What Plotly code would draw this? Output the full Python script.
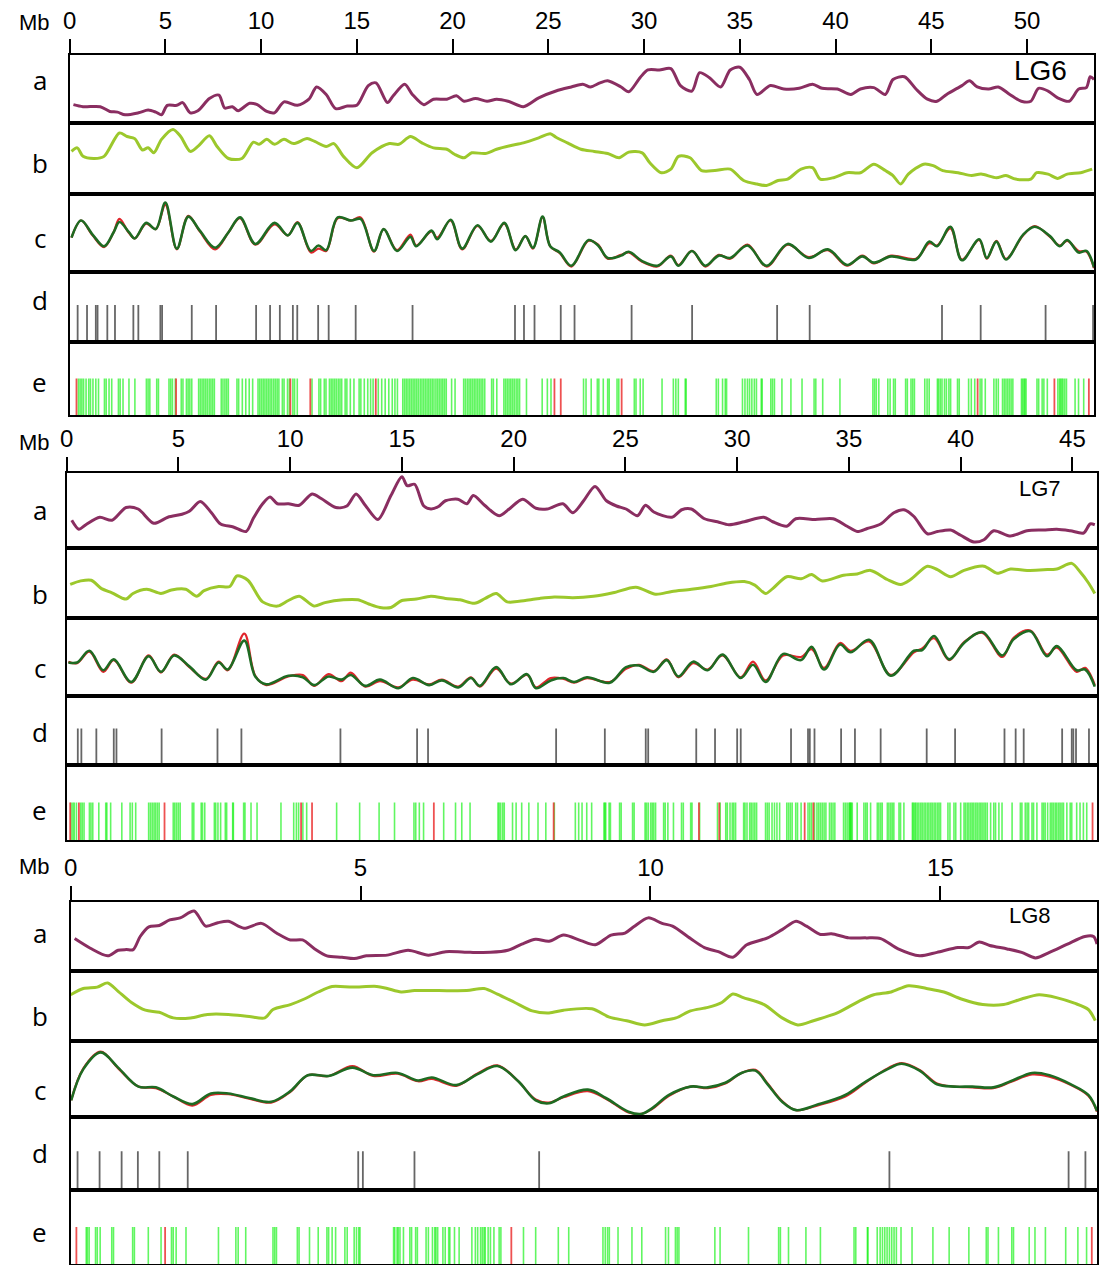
import plotly.graph_objects as go

W, H = 1100, 1265

# ======================= LG6 =======================
lg6_a_mb = [0.2,0.7,1.6,2.1,2.5,2.9,3.6,4.1,4.5,4.8, 5.1,5.6,5.9,6.3,6.7,7.3,7.8,8.1,8.5,8.8,
            9.4,9.8,10.3,10.7,11.2,11.9,12.5,12.9,13.4,13.9, 14.5,15.0,15.6,16.0,16.6,16.9,17.5,17.9,18.5,19.0,
            19.7,20.2,20.6,21.2,21.8,22.3,22.9,23.7,24.5,25.4, 26.2,26.8,27.2,27.7,28.1,28.8,29.2,29.8,30.2,30.8,
            31.4,31.9,32.5,32.9,33.4,34.0,34.5,35.0,35.5,35.9, 36.6,37.3,38.1,38.8,39.3,40.1,40.8,41.3,42.0,42.6,
            43.0,43.6,44.2,44.8,45.3,45.8,46.6,47.0,47.4,48.0, 48.5,49.1,49.7,50.2,50.6,51.1,51.6,52.2,52.7,53.1,
            53.3,53.5]
lg6_a_val = [0.27,0.24,0.24,0.17,0.16,0.12,0.15,0.19,0.16,0.12, 0.26,0.26,0.30,0.15,0.18,0.36,0.41,0.22,0.24,0.18,
             0.29,0.27,0.17,0.15,0.31,0.26,0.35,0.53,0.42,0.21, 0.25,0.26,0.55,0.59,0.30,0.40,0.57,0.42,0.27,0.35,
             0.35,0.40,0.32,0.36,0.32,0.35,0.32,0.24,0.37,0.47, 0.53,0.57,0.53,0.59,0.62,0.53,0.46,0.67,0.78,0.78,
             0.80,0.55,0.47,0.74,0.67,0.53,0.78,0.82,0.64,0.42, 0.55,0.50,0.51,0.57,0.51,0.50,0.42,0.50,0.52,0.42,
             0.64,0.68,0.50,0.35,0.32,0.42,0.55,0.62,0.53,0.50, 0.53,0.42,0.32,0.32,0.51,0.47,0.37,0.32,0.50,0.52,
             0.68,0.64]

lg6_b_mb = [0.1,0.4,0.7,1.3,1.8,2.6,3.0,3.4,3.8,4.1, 4.4,4.8,5.4,5.8,6.3,6.7,7.3,7.7,8.3,9.0,
            9.6,9.9,10.3,10.7,11.2,11.7,12.4,12.8,13.4,13.8, 14.3,15.0,15.8,16.7,17.2,17.8,18.4,19.0,19.7,20.1,
            20.6,21.0,21.7,22.3,23.0,23.7,24.5,25.1,25.4,26.0, 26.7,27.4,28.1,28.7,29.2,29.9,30.3,30.9,31.4,31.8,
            32.4,33.0,33.7,34.5,35.2,35.9,36.4,37.0,37.5,38.2, 38.8,39.2,39.9,40.6,41.3,42.0,42.6,43.0,43.4,43.8,
            44.6,45.1,45.6,46.4,47.1,47.6,48.4,48.9,49.4,50.2, 50.5,51.1,51.6,52.1,52.8,53.4]
lg6_b_val = [0.60,0.65,0.53,0.50,0.53,0.86,0.81,0.78,0.62,0.65, 0.58,0.77,0.91,0.81,0.60,0.67,0.82,0.67,0.50,0.50,
             0.73,0.70,0.77,0.70,0.77,0.71,0.78,0.74,0.67,0.71, 0.53,0.37,0.58,0.71,0.70,0.81,0.72,0.65,0.63,0.56,
             0.51,0.58,0.57,0.63,0.68,0.72,0.79,0.85,0.80,0.72, 0.63,0.60,0.57,0.51,0.59,0.58,0.44,0.30,0.35,0.53,
             0.51,0.33,0.33,0.35,0.19,0.14,0.12,0.19,0.21,0.35, 0.37,0.21,0.23,0.30,0.30,0.42,0.33,0.26,0.14,0.28,
             0.42,0.40,0.33,0.30,0.26,0.28,0.23,0.26,0.21,0.21, 0.30,0.28,0.22,0.28,0.30,0.35]

lg6_c_mb = [0.1,0.6,1.2,1.8,2.3,2.6,3.1,3.4,4.0,4.5, 5.0,5.6,6.2,6.8,7.6,8.3,8.9,9.7,10.7,11.4,
            11.9,12.6,13.0,13.4,14.0,14.7,15.2,15.9,16.4,17.1, 17.8,18.1,18.9,19.2,19.9,20.5,21.3,22.0,22.7,23.3,
            23.8,24.2,24.7,25.1,25.6,26.2,27.1,27.6,28.1,28.8, 29.2,29.9,30.7,31.4,31.8,32.5,33.2,33.9,34.5,35.4,
            36.4,37.5,38.6,39.6,40.6,41.4,42.0,42.9,44.2,44.9, 45.3,46.0,46.6,47.5,47.9,48.4,48.9,49.8,50.4,51.2,
            51.7,52.1,52.7,53.1,53.5]
lg6_c_green = [0.44,0.66,0.48,0.33,0.51,0.64,0.51,0.43,0.63,0.55, 0.89,0.30,0.71,0.53,0.31,0.51,0.70,0.36,0.63,0.47,
               0.63,0.27,0.34,0.28,0.70,0.66,0.68,0.27,0.55,0.27, 0.45,0.33,0.53,0.42,0.67,0.30,0.60,0.39,0.63,0.28,
               0.46,0.31,0.71,0.33,0.25,0.08,0.41,0.34,0.18,0.21, 0.26,0.14,0.08,0.20,0.08,0.27,0.08,0.21,0.18,0.34,
               0.08,0.36,0.18,0.29,0.09,0.20,0.12,0.20,0.16,0.39, 0.33,0.58,0.15,0.42,0.18,0.39,0.16,0.48,0.58,0.46,
               0.33,0.41,0.25,0.27,0.06]
lg6_c_red = [0.44,0.66,0.47,0.32,0.51,0.68,0.50,0.43,0.62,0.55, 0.86,0.29,0.72,0.52,0.29,0.51,0.69,0.35,0.61,0.47,
             0.64,0.25,0.30,0.27,0.69,0.66,0.70,0.26,0.55,0.28, 0.48,0.34,0.52,0.44,0.66,0.29,0.59,0.40,0.62,0.29,
             0.46,0.30,0.70,0.33,0.24,0.07,0.40,0.35,0.17,0.22, 0.25,0.13,0.07,0.21,0.09,0.27,0.07,0.22,0.17,0.35,
             0.07,0.35,0.19,0.28,0.08,0.21,0.11,0.21,0.17,0.37, 0.34,0.56,0.16,0.41,0.17,0.40,0.17,0.47,0.59,0.45,
             0.34,0.40,0.27,0.26,0.05]

lg6_d_mb = [0.42,0.91,1.37,1.46,1.97,2.37,3.33,3.59,4.74,4.83,6.38,7.65,9.74,10.47,10.98,11.66,11.89,
            12.98,13.53,14.94,17.91,23.26,23.73,24.28,25.65,26.37,29.35,32.51,36.95,38.65,45.56,47.58,50.97,53.45]

lg6_e_green = [0.46,0.55,0.64,0.73,0.86,1.00,1.09,1.22,1.37,1.51,1.82,1.91,2.06,2.20,2.55,2.64,2.79,3.10,3.41,
               4.01,4.10,4.19,4.55,4.64,5.19,5.28,5.37,5.52,5.83,5.92,6.10,6.19,6.28,6.38,6.74,6.83,6.92,7.01,
               7.10,7.19,7.29,7.38,7.47,7.56,7.92,8.01,8.11,8.20,8.29,8.74,8.83,9.02,9.20,9.38,9.56,9.84,9.93,
               10.02,10.11,10.20,10.29,10.38,10.47,10.56,10.66,10.75,10.84,10.93,11.11,11.20,11.38,11.48,11.66,
               11.75,11.89,12.66,13.02,13.11,13.30,13.39,13.57,13.66,13.75,13.84,13.93,14.03,14.12,14.21,14.39,
               14.48,14.66,14.85,15.12,15.21,15.39,15.57,15.72,15.85,16.12,16.30,16.48,16.67,16.85,16.99,17.12,
               17.40,17.49,17.58,17.67,17.76,17.85,17.94,18.03,18.12,18.21,18.31,18.40,18.49,18.58,18.67,18.76,
               18.85,18.94,19.03,19.13,19.22,19.31,19.40,19.49,19.58,19.67,19.95,20.13,20.58,20.67,20.77,20.86,
               20.95,21.04,21.13,21.22,21.31,21.40,21.49,21.58,21.68,22.04,22.13,22.31,22.68,22.77,22.86,22.95,
               23.04,23.13,23.22,23.32,23.41,23.50,23.86,24.68,24.95,25.14,
               26.84,26.97,27.24,27.56,27.64,27.87,28.10,28.18,28.59,28.68,29.49,29.58,29.80,29.95,30.94,31.53,
               31.66,31.79,32.15,32.20,33.77,33.88,34.10,34.24,34.31,35.14,35.27,35.40,35.51,35.63,35.76,35.87,
               36.12,36.17,36.62,36.71,36.81,37.20,37.67,38.25,38.88,38.97,39.33,40.23,41.95,42.04,42.13,42.26,
               42.73,42.85,43.03,43.12,43.66,43.75,43.94,44.03,44.12,44.66,44.78,44.89,45.32,45.38,45.47,45.56,
               45.69,45.79,45.92,46.01,46.37,46.46,46.95,47.09,47.27,47.55,47.64,47.82,48.27,48.39,48.50,48.72,
               48.81,48.90,48.99,49.08,49.17,49.26,49.71,49.77,49.84,49.89,49.95,50.52,50.61,50.79,50.88,51.06,
               51.61,51.70,51.75,51.82,51.88,51.97,52.06,52.51,52.69,52.96]
lg6_e_red = [0.36,5.56,11.53,12.57,15.99,25.32,25.65,28.83,47.42,51.43,53.23]

# ======================= LG7 =======================
lg7_a_mb = [0.23,0.55,0.86,1.48,2.03,2.66,3.2,3.9,4.53,5.16, 5.49,5.98,6.48,6.89,7.46,8.03,8.36,8.77,9.1,9.43,
            9.92,10.41,10.98,11.39,12.05,12.54,12.95,13.36,13.93,14.51, 15.0,15.24,15.57,15.98,16.3,16.62,16.95,17.5,17.9,18.2,
            18.7,19.35,19.8,20.4,21.0,21.5,22.2,22.65,23.13,23.64, 24.15,24.6,25.03,25.54,25.9,26.27,27.08,27.52,27.95,28.54,
            29.12,29.63,30.32,31.19,31.59,32.22,32.62,33.49,34.29,34.92, 35.37,35.82,36.42,37.01,37.46,37.91,38.51,38.96,39.55,40.0,
            40.59,41.04,41.48,42.23,42.97,43.71,44.3,44.9,45.5,45.79, 46.0]
lg7_a_val = [0.37,0.25,0.31,0.41,0.37,0.54,0.52,0.33,0.41,0.45, 0.49,0.62,0.47,0.32,0.28,0.22,0.40,0.59,0.68,0.59,
             0.59,0.57,0.72,0.66,0.54,0.56,0.72,0.57,0.38,0.70, 0.95,0.83,0.85,0.56,0.52,0.55,0.63,0.65,0.59,0.70,
             0.57,0.43,0.52,0.65,0.53,0.52,0.59,0.47,0.63,0.82, 0.63,0.56,0.52,0.43,0.57,0.48,0.41,0.51,0.52,0.39,
             0.35,0.31,0.35,0.41,0.35,0.29,0.39,0.38,0.39,0.29, 0.22,0.26,0.32,0.47,0.51,0.42,0.19,0.22,0.24,0.17,
             0.08,0.11,0.23,0.16,0.23,0.24,0.25,0.23,0.20,0.32, 0.31]

lg7_b_mb = [0.16,0.63,1.1,1.56,2.03,2.66,2.97,3.59,4.22,4.69, 5.33,5.82,6.15,6.8,7.3,7.62,8.11,8.77,9.43,9.92,
            10.41,11.07,11.56,12.38,13.03,13.52,14.02,14.51,15.0,15.65, 16.3,16.95,17.6,18.25,18.73,19.22,19.71,20.52,21.17,21.82,
            22.65,23.57,24.45,25.47,26.35,27.08,27.95,28.83,29.56,30.32, 30.79,31.27,31.59,32.22,32.86,33.33,33.81,34.76,35.37,35.97,
            36.72,37.31,37.76,38.51,38.96,39.55,40.15,41.04,41.63,42.23, 42.97,43.71,44.3,44.97,45.34,45.72,46.0]
lg7_b_val = [0.48,0.53,0.54,0.42,0.36,0.27,0.35,0.41,0.35,0.40, 0.41,0.31,0.39,0.45,0.45,0.60,0.54,0.23,0.17,0.25,
             0.31,0.17,0.22,0.26,0.26,0.20,0.15,0.15,0.25,0.27, 0.31,0.28,0.26,0.21,0.28,0.35,0.23,0.25,0.28,0.30,
             0.29,0.31,0.36,0.44,0.34,0.38,0.41,0.45,0.50,0.52, 0.47,0.35,0.42,0.59,0.56,0.62,0.53,0.61,0.63,0.68,
             0.55,0.48,0.55,0.74,0.69,0.59,0.68,0.74,0.64,0.70, 0.68,0.69,0.70,0.78,0.66,0.50,0.35]

lg7_c_mb = [0.08,0.47,1.02,1.64,2.11,2.89,3.67,4.22,4.81,5.49, 6.23,6.8,7.21,7.95,8.44,8.93,9.92,10.57,11.07,11.72,
            12.3,12.71,13.36,14.02,14.84,15.49,16.22,16.79,17.52,18.09, 18.49,19.22,19.87,20.6,21.0,21.66,22.23,22.7,23.28,24.3,
            25.03,25.61,26.27,26.85,27.37,28.03,28.68,29.34,30.16,30.71, 31.27,32.06,32.86,33.33,33.89,34.6,35.07,35.9,36.87,37.91,
            38.28,38.81,39.48,40.15,40.97,41.86,42.38,43.12,43.86,44.3, 45.19,45.57,46.0]
lg7_c_green = [0.43,0.43,0.58,0.33,0.47,0.18,0.51,0.31,0.52,0.38, 0.21,0.43,0.34,0.71,0.25,0.15,0.26,0.24,0.14,0.25,
               0.21,0.27,0.13,0.21,0.10,0.23,0.14,0.20,0.11,0.23, 0.13,0.37,0.15,0.28,0.10,0.20,0.23,0.18,0.24,0.17,
               0.37,0.39,0.31,0.46,0.25,0.44,0.33,0.53,0.23,0.40, 0.18,0.54,0.46,0.63,0.34,0.66,0.56,0.72,0.26,0.58,
               0.59,0.77,0.47,0.68,0.82,0.52,0.73,0.83,0.51,0.64, 0.33,0.34,0.12]
lg7_c_red = [0.44,0.42,0.57,0.31,0.46,0.17,0.52,0.30,0.53,0.37, 0.22,0.44,0.33,0.80,0.26,0.14,0.25,0.27,0.13,0.28,
             0.19,0.30,0.12,0.19,0.11,0.21,0.15,0.21,0.12,0.24, 0.12,0.35,0.16,0.27,0.11,0.23,0.22,0.17,0.23,0.18,
             0.35,0.40,0.32,0.47,0.24,0.42,0.34,0.52,0.24,0.44, 0.20,0.52,0.50,0.60,0.36,0.68,0.58,0.70,0.27,0.56,
             0.61,0.74,0.46,0.69,0.81,0.50,0.75,0.84,0.53,0.62, 0.31,0.36,0.14]

lg7_d_mb = [0.5,0.66,1.33,2.11,2.23,4.25,6.75,7.82,12.25,15.68,16.17,21.9,
            24.08,25.91,26.02,28.17,29.01,30.0,30.16,32.41,33.17,33.25,33.46,34.65,35.27,36.42,
            38.48,39.75,41.96,42.46,42.82,44.54,44.97,45.04,45.16,45.74]

lg7_e_green = [0.2,0.28,0.34,0.44,0.63,0.7,0.78,1.02,1.09,1.17,1.44,1.75,1.8,1.97,2.47,2.84,2.94,3.09,3.67,3.75,
               3.83,3.91,3.98,4.06,4.14,4.77,4.84,4.92,5.0,5.08,5.62,5.69,6.02,6.08,6.18,6.61,6.67,6.77,6.89,7.1,
               7.16,7.43,7.46,7.92,7.98,8.25,8.52,9.59,10.16,10.28,10.38,10.57,10.74,12.08,13.11,13.98,14.67,15.54,
               15.62,15.78,15.97,16.87,17.4,17.68,18.05,19.3,19.35,19.42,19.51,19.58,19.95,20.11,20.36,20.68,21.09,
               21.44,21.82,
               22.76,22.91,23.06,23.27,23.49,24.04,24.08,24.12,24.27,24.33,24.74,24.81,25.32,25.39,25.88,25.94,
               26.02,26.13,26.2,26.27,26.35,26.71,26.78,26.9,27.15,27.51,27.59,27.92,27.98,28.32,29.12,29.24,29.49,
               29.56,29.68,29.78,29.85,29.93,30.29,30.35,30.44,30.56,30.63,30.71,30.79,30.87,31.27,31.35,31.43,
               31.56,31.67,31.78,31.9,32.22,32.3,32.38,32.46,32.62,32.7,32.86,33.17,33.25,33.33,33.46,33.57,33.65,
               33.73,33.81,33.89,33.97,34.13,34.21,34.29,34.37,34.76,34.84,34.92,35.0,35.04,35.07,35.1,35.15,
               35.37,35.67,35.75,35.82,35.97,36.27,36.34,36.42,36.49,36.72,36.79,36.87,36.94,37.01,37.24,37.31,
               37.46,37.84,37.88,37.94,37.99,38.06,38.13,38.21,38.28,38.36,38.43,38.51,38.58,38.66,38.73,38.81,
               38.88,38.96,39.03,39.1,39.43,39.52,39.7,39.78,40.0,40.15,40.22,40.3,40.37,40.45,40.52,40.59,40.67,
               40.74,40.82,40.89,40.96,41.04,41.11,41.19,41.34,41.48,41.56,41.71,41.85,42.3,42.67,42.74,42.89,
               42.97,43.04,43.19,43.26,43.41,43.64,43.71,43.78,43.89,44.01,44.08,44.15,44.23,44.3,44.38,44.45,
               44.53,44.6,44.75,44.9,44.97,45.19,45.34,45.49,45.64]
lg7_e_red = [0.16,0.55,4.38,10.49,10.98,16.43,21.79,28.29,29.2,33.02,33.41,45.9]

# ======================= LG8 =======================
lg8_a_mb = [0.07,0.34,0.64,0.82,0.96,1.08,1.2,1.35,1.53,1.71, 1.89,2.13,2.33,2.54,2.72,2.99,3.29,3.55,3.79,4.0,
            4.21,4.42,4.68,4.89,5.1,5.46,5.82,6.17,6.47,6.89, 7.24,7.54,7.78,8.02,8.25,8.5,8.8,9.05,9.32,9.56,
            9.71,9.96,10.2,10.38,10.69,10.93,11.17,11.42,11.66,12.02, 12.27,12.51,12.69,12.93,13.12,13.42,13.72,13.97,14.27,14.64,
            14.94,15.3,15.49,15.67,15.85,16.15,16.4,16.64,16.88,17.19, 17.49,17.64,17.7]
lg8_a_val = [0.47,0.33,0.22,0.30,0.31,0.31,0.50,0.64,0.66,0.74, 0.77,0.87,0.65,0.70,0.72,0.62,0.69,0.55,0.45,0.45,
             0.32,0.22,0.20,0.18,0.22,0.23,0.30,0.23,0.28,0.27, 0.27,0.30,0.39,0.46,0.43,0.52,0.44,0.38,0.52,0.55,
             0.64,0.77,0.69,0.65,0.47,0.34,0.28,0.20,0.38,0.48, 0.60,0.72,0.65,0.53,0.54,0.48,0.48,0.47,0.32,0.22,
             0.27,0.34,0.34,0.42,0.37,0.32,0.27,0.19,0.27,0.39, 0.50,0.50,0.39]

lg8_b_mb = [0.0,0.22,0.46,0.64,0.82,1.05,1.29,1.53,1.77,2.07, 2.36,2.72,3.08,3.35,3.49,3.79,4.03,4.27,4.51,4.86,
            5.28,5.46,5.7,5.93,6.35,6.83,7.13,7.36,7.66,7.96, 8.25,8.5,8.99,9.29,9.59,9.9,10.2,10.44,10.69,10.99,
            11.23,11.42,11.6,11.96,12.27,12.54,12.81,13.24,13.6,13.85, 14.15,14.45,14.76,15.06,15.36,15.73,16.09,16.4,16.7,17.0,
            17.31,17.55,17.67]
lg8_b_val = [0.66,0.75,0.77,0.83,0.71,0.55,0.44,0.41,0.33,0.33, 0.38,0.38,0.35,0.33,0.45,0.52,0.60,0.70,0.78,0.77,
             0.78,0.75,0.70,0.72,0.72,0.72,0.75,0.67,0.55,0.43, 0.40,0.44,0.46,0.34,0.29,0.23,0.29,0.33,0.43,0.48,
             0.55,0.67,0.62,0.52,0.33,0.23,0.29,0.41,0.57,0.66, 0.70,0.79,0.75,0.70,0.60,0.52,0.52,0.60,0.66,0.62,
             0.54,0.45,0.29]

lg8_c_mb = [0.01,0.22,0.52,0.82,1.17,1.47,1.77,2.1,2.42,2.72, 3.08,3.46,3.79,4.09,4.45,4.86,5.22,5.64,5.99,6.23,
            6.65,7.01,7.36,7.72,8.02,8.25,8.5,8.92,9.23,9.62, 9.84,10.02,10.32,10.69,10.99,11.29,11.57,11.81,12.02,12.27,
            12.51,12.87,13.36,13.72,14.09,14.33,14.64,14.94,15.24,15.55, 15.91,16.21,16.58,16.88,17.25,17.55,17.7]
lg8_c_green = [0.22,0.63,0.85,0.65,0.40,0.39,0.27,0.17,0.31,0.31, 0.25,0.20,0.34,0.55,0.54,0.65,0.55,0.58,0.48,0.52,
               0.42,0.56,0.67,0.47,0.22,0.18,0.27,0.36,0.25,0.07, 0.04,0.11,0.29,0.40,0.39,0.45,0.58,0.61,0.43,0.20,
               0.09,0.16,0.29,0.47,0.63,0.70,0.61,0.43,0.40,0.40, 0.39,0.47,0.58,0.55,0.43,0.29,0.08]
lg8_c_red = [0.22,0.64,0.86,0.64,0.40,0.38,0.27,0.15,0.29,0.30, 0.24,0.19,0.33,0.55,0.54,0.67,0.54,0.57,0.47,0.50,
             0.41,0.57,0.68,0.47,0.23,0.19,0.26,0.34,0.24,0.06, 0.04,0.10,0.28,0.40,0.38,0.44,0.58,0.62,0.44,0.21,
             0.09,0.15,0.27,0.46,0.64,0.71,0.62,0.44,0.40,0.39, 0.38,0.46,0.56,0.53,0.42,0.28,0.07]

lg8_d_mb = [0.12,0.5,0.88,1.16,1.53,2.02,4.96,5.04,5.93,8.08,14.12,17.21,17.5]

lg8_e_green = [0.27,0.29,0.32,0.43,0.46,0.51,0.71,0.74,1.07,1.1,1.34,1.56,1.74,1.77,1.82,1.99,2.55,2.85,2.89,3.02,
               3.49,3.52,3.55,3.91,3.94,4.12,4.27,4.42,4.45,4.51,4.57,4.73,4.77,4.89,4.93,4.97,4.99,5.57,5.59,5.63,
               5.65,5.68,5.74,5.85,5.88,5.95,5.98,6.13,6.17,6.24,6.28,6.3,6.33,6.42,6.46,6.52,6.54,6.62,6.7,6.92,
               6.98,7.02,7.07,7.1,7.13,7.15,7.2,7.24,7.3,7.39,7.42,7.81,8.02,
               8.41,8.59,9.18,9.22,9.26,9.29,9.44,9.68,9.85,10.26,10.31,10.43,10.46,10.49,11.11,11.2,11.69,12.21,
               12.24,12.38,12.68,12.93,13.51,13.54,13.74,13.75,13.91,13.96,14.0,14.04,14.08,14.12,14.16,14.2,14.24,
               14.32,14.51,14.87,15.15,15.49,15.79,15.82,16.0,16.23,16.26,16.53,16.63,16.81,17.16,17.37,17.52]
lg8_e_red = [0.1,1.63,7.6,17.61]

# tick labels (Mb)
lg6_ticks = [0, 5, 10, 15, 20, 25, 30, 35, 40, 45, 50]
lg7_ticks = [0, 5, 10, 15, 20, 25, 30, 35, 40, 45]
lg8_ticks = [0, 5, 10, 15]
row_letters = ["a", "b", "c", "d", "e"]

# ---------------- styles / layout ----------------
PURPLE = "#8a2e61"
YGREEN = "#9cc82c"
CRED = "#e0262c"
CGREEN = "#1e6b22"
DGREY = "#666666"
EGREEN = "rgba(0,240,0,0.62)"
ERED = "rgba(235,50,50,0.85)"

blocks = [
    dict(name="LG6", length=53.5, left=63, right=1094, rows=[55, 123, 194, 272, 342, 415],
         ticks=lg6_ticks, mb_y=22, lg_pos=(1040, 70), lg_size=28,
         letter_y=[80, 163, 238, 300, 382],
         a=(lg6_a_mb, lg6_a_val), b=(lg6_b_mb, lg6_b_val), c=(lg6_c_mb, lg6_c_green, lg6_c_red),
         d=lg6_d_mb, e=(lg6_e_green, lg6_e_red)),
    dict(name="LG7", length=46.1, left=60, right=1097, rows=[473, 548, 618, 696, 765, 840],
         ticks=lg7_ticks, mb_y=442, lg_pos=(1040, 488), lg_size=22,
         letter_y=[510, 594, 668, 732, 810],
         a=(lg7_a_mb, lg7_a_val), b=(lg7_b_mb, lg7_b_val), c=(lg7_c_mb, lg7_c_green, lg7_c_red),
         d=lg7_d_mb, e=(lg7_e_green, lg7_e_red)),
    dict(name="LG8", length=17.7, left=64, right=1097, rows=[902, 971, 1041, 1117, 1190, 1264],
         ticks=lg8_ticks, mb_y=866, lg_pos=(1030, 915), lg_size=22,
         letter_y=[933, 1016, 1090, 1153, 1232],
         a=(lg8_a_mb, lg8_a_val), b=(lg8_b_mb, lg8_b_val), c=(lg8_c_mb, lg8_c_green, lg8_c_red),
         d=lg8_d_mb, e=(lg8_e_green, lg8_e_red)),
]


def stems(positions, height):
    xs, ys = [], []
    for p in positions:
        xs += [p, p, None]
        ys += [0, height, None]
    return xs, ys


fig = go.Figure()
layout_axes = {}
annotations = []
n = 0
for blk in blocks:
    for j, key in enumerate(row_letters):
        n += 1
        xa = "x" if n == 1 else f"x{n}"
        ya = "y" if n == 1 else f"y{n}"
        xname = "xaxis" if n == 1 else f"xaxis{n}"
        yname = "yaxis" if n == 1 else f"yaxis{n}"
        top, bot = blk["rows"][j], blk["rows"][j + 1]
        xax = dict(domain=[blk["left"] / W, blk["right"] / W], range=[0, blk["length"]],
                   showgrid=False, zeroline=False, showline=True, mirror=True,
                   linecolor="black", linewidth=2, fixedrange=True, anchor=ya)
        if key == "a":
            xax.update(side="top", ticks="outside", ticklen=14, tickwidth=2, tickcolor="black",
                       tickvals=blk["ticks"], ticktext=[str(t) for t in blk["ticks"]],
                       showticklabels=True, ticklabelstandoff=0,
                       tickfont=dict(family="Liberation Sans, Arial", size=24, color="black"))
        else:
            xax.update(showticklabels=False, ticks="")
        yax = dict(domain=[1 - bot / H, 1 - top / H], range=[0, 1], showgrid=False, zeroline=False,
                   showline=True, mirror=True, linecolor="black", linewidth=2,
                   showticklabels=False, ticks="", fixedrange=True, anchor=xa)
        layout_axes[xname] = xax
        layout_axes[yname] = yax

        if key == "a":
            mx, my = blk["a"]
            fig.add_trace(go.Scatter(x=mx, y=my, mode="lines", xaxis=xa, yaxis=ya, hoverinfo="skip",
                                     line=dict(color=PURPLE, width=3, shape="spline", smoothing=0.8)))
        elif key == "b":
            mx, my = blk["b"]
            fig.add_trace(go.Scatter(x=mx, y=my, mode="lines", xaxis=xa, yaxis=ya, hoverinfo="skip",
                                     line=dict(color=YGREEN, width=3, shape="spline", smoothing=0.8)))
        elif key == "c":
            mx, g, r = blk["c"]
            fig.add_trace(go.Scatter(x=mx, y=r, mode="lines", xaxis=xa, yaxis=ya, hoverinfo="skip",
                                     line=dict(color=CRED, width=2.2, shape="spline", smoothing=1.0)))
            fig.add_trace(go.Scatter(x=mx, y=g, mode="lines", xaxis=xa, yaxis=ya, hoverinfo="skip",
                                     line=dict(color=CGREEN, width=2.6, shape="spline", smoothing=1.0)))
        elif key == "d":
            sx, sy = stems(blk["d"], 0.53)
            fig.add_trace(go.Scatter(x=sx, y=sy, mode="lines", xaxis=xa, yaxis=ya, hoverinfo="skip",
                                     line=dict(color=DGREY, width=1.8)))
        else:
            gpos, rpos = blk["e"]
            sx, sy = stems(gpos, 0.5)
            fig.add_trace(go.Scatter(x=sx, y=sy, mode="lines", xaxis=xa, yaxis=ya, hoverinfo="skip",
                                     line=dict(color=EGREEN, width=1.6)))
            sx, sy = stems(rpos, 0.5)
            fig.add_trace(go.Scatter(x=sx, y=sy, mode="lines", xaxis=xa, yaxis=ya, hoverinfo="skip",
                                     line=dict(color=ERED, width=1.8)))

        annotations.append(dict(text=key, x=33 / W, y=1 - blk["letter_y"][j] / H, xref="paper", yref="paper",
                                xanchor="center", yanchor="middle", showarrow=False,
                                font=dict(family="Open Sans", size=26, color="black")))

    annotations.append(dict(text="Mb", x=28 / W, y=1 - blk["mb_y"] / H, xref="paper", yref="paper",
                            xanchor="center", yanchor="middle", showarrow=False,
                            font=dict(family="Liberation Sans, Arial", size=22, color="black")))
    lx, ly = blk["lg_pos"]
    annotations.append(dict(text=blk["name"], x=lx / W, y=1 - ly / H, xref="paper", yref="paper",
                            xanchor="center", yanchor="middle", showarrow=False,
                            font=dict(family="Liberation Sans, Arial", size=blk["lg_size"], color="black")))

fig.update_layout(width=W, height=H, margin=dict(l=0, r=0, t=0, b=0), showlegend=False,
                  paper_bgcolor="white", plot_bgcolor="white", hovermode=False,
                  annotations=annotations, **layout_axes)

fig.write_html("out.html")
